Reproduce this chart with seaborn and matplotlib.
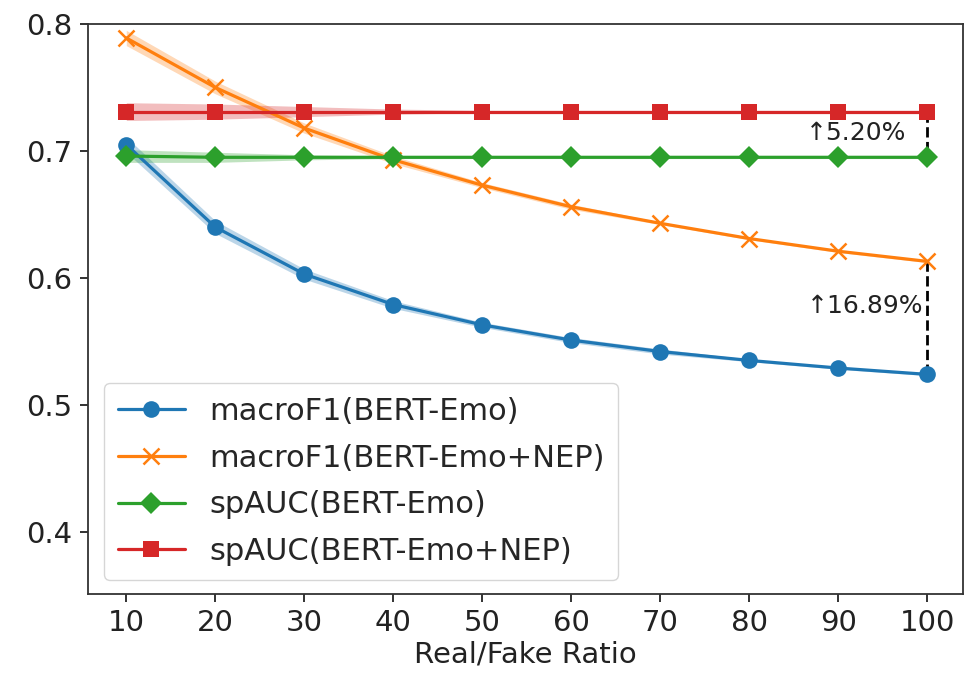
import numpy as np
import pandas as pd
import matplotlib
matplotlib.use("Agg")
import matplotlib.pyplot as plt
import seaborn as sns

ratios = [10, 20, 30, 40, 50, 60, 70, 80, 90, 100]
f1_bert = [0.705, 0.640, 0.603, 0.579, 0.563, 0.551, 0.542, 0.535, 0.529, 0.524]
f1_nep = [0.789, 0.750, 0.718, 0.693, 0.673, 0.656, 0.643, 0.631, 0.621, 0.613]
auc_bert = [0.696, 0.695, 0.695, 0.695, 0.695, 0.695, 0.695, 0.695, 0.695, 0.695]
auc_nep = [0.731, 0.731, 0.731, 0.731, 0.731, 0.731, 0.731, 0.731, 0.731, 0.731]
# half-widths of shaded bands
band_f1_bert = [0.006, 0.005, 0.004, 0.003, 0.002, 0.002, 0.002, 0.001, 0.001, 0.001]
band_f1_nep = [0.006, 0.005, 0.004, 0.003, 0.002, 0.002, 0.001, 0.001, 0.001, 0.001]
band_auc_bert = [0.005, 0.004, 0.002, 0.001, 0.001, 0.001, 0.001, 0.001, 0.001, 0.001]
band_auc_nep = [0.007, 0.006, 0.004, 0.002, 0.001, 0.001, 0.001, 0.001, 0.001, 0.001]

labels = ["macroF1(BERT-Emo)", "macroF1(BERT-Emo+NEP)", "spAUC(BERT-Emo)", "spAUC(BERT-Emo+NEP)"]
colors = ["#1f77b4", "#ff7f0e", "#2ca02c", "#d62728"]
markers = ["o", "x", "D", "s"]
msizes = [12, 11, 11, 11]
series = [f1_bert, f1_nep, auc_bert, auc_nep]
bands = [band_f1_bert, band_f1_nep, band_auc_bert, band_auc_nep]
annot_texts = ["↑5.20%", "↑16.89%"]

sns.set_theme(style="ticks")
plt.rcParams['font.family'] = ['DejaVu Sans']

fig = plt.figure(figsize=(9.64, 6.82), dpi=100)
ax = fig.add_axes([0.0913, 0.129, 0.9077, 0.8358])

for lab, col, mk, ms, vals, bw in zip(labels, colors, markers, msizes, series, bands):
    df = pd.DataFrame({"ratio": ratios, "value": vals})
    lo = np.array(vals) - np.array(bw)
    hi = np.array(vals) + np.array(bw)
    ax.fill_between(ratios, lo, hi, color=col, alpha=0.3, linewidth=0)
    mew = 1.8 if mk == "x" else 0
    sns.lineplot(data=df, x="ratio", y="value", ax=ax, color=col, marker=mk,
                 markersize=ms, linewidth=2.3, label=lab,
                 markeredgecolor=col, markerfacecolor=col, markeredgewidth=mew)

# dashed connectors at ratio 100
ax.plot([ratios[-1], ratios[-1]], [auc_nep[-1], auc_bert[-1]], ls="--", color="black", lw=2, zorder=1)
ax.plot([ratios[-1], ratios[-1]], [f1_nep[-1], f1_bert[-1]], ls="--", color="black", lw=2, zorder=1)
ax.text(97.6, 0.7142, annot_texts[0], ha="right", va="center", fontsize=18, color="#222222")
ax.text(99.5, 0.578, annot_texts[1], ha="right", va="center", fontsize=18, color="#222222")

ax.set_ylim(0.351, 0.8)
ax.set_xlim(5.7, 104.0)
ax.set_xticks(ratios)
ax.set_yticks([0.4, 0.5, 0.6, 0.7, 0.8])
ax.set_yticklabels(["0.4", "0.5", "0.6", "0.7", "0.8"])
ax.tick_params(labelsize=21, length=6, width=1.3, colors="#222222", pad=5)
ax.set_xlabel("Real/Fake Ratio", fontsize=21, color="#222222", labelpad=2)
ax.set_ylabel("")
for s in ax.spines.values():
    s.set_color("#333333")
    s.set_linewidth(1.3)

leg = ax.legend(loc="lower left", fontsize=22, handlelength=2.2, handletextpad=0.8,
                borderpad=0.45, labelspacing=0.58, frameon=True, borderaxespad=0,
                bbox_to_anchor=(0.018, 0.025))
leg.get_frame().set_edgecolor("#cccccc")

fig.savefig("out.png", dpi=100)
